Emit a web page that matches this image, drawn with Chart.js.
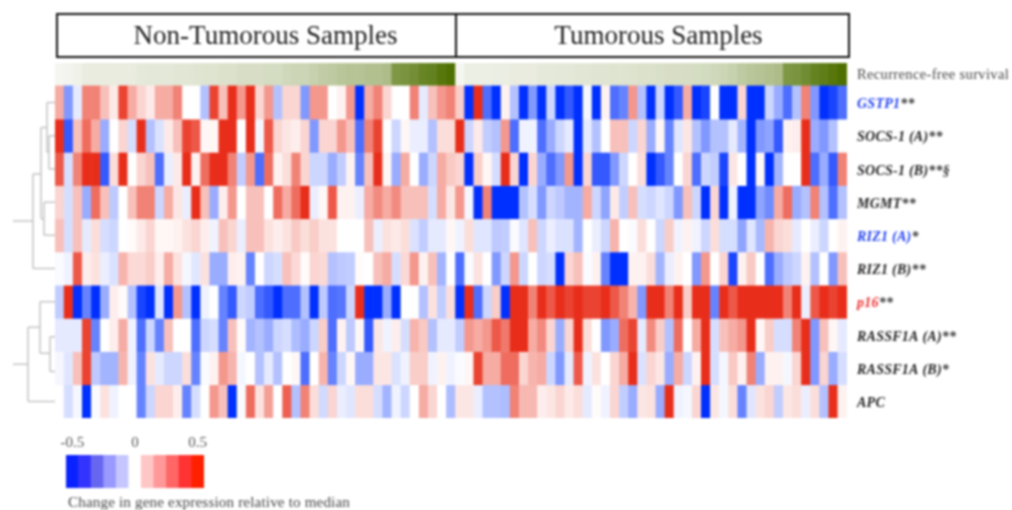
<!DOCTYPE html>
<html>
<head>
<meta charset="utf-8">
<script src="https://cdn.jsdelivr.net/npm/chart.js@4"></script>
<style>
  html, body { margin: 0; padding: 0; background: #fff; }
  #page { position: relative; width: 1012px; height: 510px; overflow: hidden; filter: blur(0.8px); font-family: "Liberation Serif", serif; }
  canvas { position: absolute; }
  #header { position: absolute; left: 56px; top: 13px; width: 790px; height: 41px; border: 2px solid #111; display: flex; box-sizing: content-box; }
  #header div { text-align: center; font-size: 27px; line-height: 41px; color: #222; box-sizing: border-box; }
  #nonTumor { width: 399px; padding-left: 18px; border-right: 2px solid #111; }
  #tumor { flex: 1; padding-left: 12px; }
  #caption { position: absolute; left: 68px; top: 494px; font-size: 15px; letter-spacing: 0.2px; color: #444; white-space: nowrap; }
</style>
</head>
<body>
<div id="page">
  <canvas id="heatmap" width="1012" height="510" style="left:0;top:0"></canvas>
  <canvas id="scaleBar" width="180" height="66" style="left:50px;top:427px"></canvas>
  <div id="header"><div id="nonTumor">Non-Tumorous Samples</div><div id="tumor">Tumorous Samples</div></div>
  <div id="caption">Change in gene expression relative to median</div>
</div>
<script>
// values are change relative to median x10 (so -5 = -0.5, 5 = 0.5)
// first 44 columns non tumorous, last 43 tumorous
const GSTP1 = [2,-2.5,-0.5,3,3,1.5,0.5,4.5,2,1, 0.5,2,2,3,0,0,-1.5,4.5,1.5,5, 2.5,5,1,2.5,-1.5,1,1,-2.5,2.5,2.5, 0,0.3,2.5,-5,2,3,1,0,0,3, -0.5,1.5,2.5,3,
  1.2,-5,5,-3.5,-5,0.3,-1.5,-5,-2.5,-5, -1,-5,-4,-5,-0.2,-5,0.3,-3.5,-3,2.5, -1.5,-5,-1,-5,-4,2,-5,-4.5,0,-5, -5,1,-5,-5,-1,-2,-3.5,-1.5,3,-2.5, -5,-4.5,-3.5];
const SOCS1A = [5,-4,1.5,3.5,2,-2,0,1,-0.8,5, -1.5,-0.7,0.5,1.5,4.5,4,0.2,0.2,5,5, 0,5,-0.2,4,1,0.6,0.4,1,-2.5,1, 1,2.5,1.5,-3.5,3,4.5,0,-1,0.2,-0.4, -0.4,-1.5,0.8,0.8,
  5,-1,0.5,-1.2,-1.5,2.5,-3.5,-0.3,-0.3,-3.5, -2,-1,-0.5,-5,-0.5,-1.5,0,1.5,1.5,-1, 1,-2,0.2,-3,-0.6,0.6,-1.5,-2.5,-1.5,-1.5, -0.5,-1.8,-5,-2.5,-2.2,-4,0.3,0.4,5,-2, -2.5,-1.5,0];
const SOCS1B = [4,-0.8,3,5,5,-4,0.8,5,0,1, 1.5,-3.5,-0.4,0.5,5,0.3,3.5,5,5,3, -1.2,2.5,-3.5,3.5,0.3,0.8,3,1,-1,-1, -2,-1.2,0.3,-3,1.5,5,0.2,-2,2,0, -2,-1,2,1.3,
  1,-5,1.2,0.2,-0.8,5,1,-5,1,-2, -3.5,-2.5,2.5,-5,1,-4,-4,-2.5,-1,0, 0.8,-5,-4,-3,0,1,-3.5,-1,-1.2,-4.5, 0.6,0,-5,0.2,-5,-1.8,0,0,5,-3.5, -2,-4,3];
const MGMT = [1,-0.8,1.5,-2,3.5,1.5,-1.3,0,1.5,3, 3,-1,2,0.6,-0.4,5,1.5,-2,0.4,2.5, 0,1.5,1.5,0,3.5,2,3.5,5,-0.4,0.2, 4,0.3,0.3,-0.4,2,2.8,2,2.8,1.5,1.5, 1.5,-0.8,2,0.6,
  2.5,-0.2,-5,3,-5,-5,-5,-1.5,-0.8,-2.5, -1,-1.3,-1.8,-1.8,2,-1,-2.2,0.5,-1.2,1.5, -0.8,-1,-0.6,-1,-2.5,1.5,-1,-5,1,-5, -0.3,-5,-5,-2.2,-2.8,2,3.5,-2,-1.5,3, -1.5,-3.5,-1.5];
const RIZ1A = [1.5,-0.8,1.5,-0.5,0.8,-0.8,-1,0,0.1,0.5, 1,0.2,0.2,0.3,0.7,1,0.4,-0.3,1.5,1, -0.4,1.5,1.5,0.7,0.4,0.7,1.3,0.8,1.2,0.7, 0.7,0,0,0,1.5,-0.4,0.7,0.5,0.8,-0.7, -1.2,-0.5,-0.5,0.2,
  -0.3,0.8,-0.6,-0.6,-1.3,-1.2,-0.1,-0.6,1.5,-1, -0.4,-0.7,-0.7,-1.8,0,-0.4,-1,1.8,0,-0.1, 0.8,0,-1,1.2,-0.3,0.3,-0.3,-1,0.8,-0.8, -0.8,-2.2,-0.6,-1.7,1.8,1,0.8,-0.5,0,-0.4, -1,0,0.3];
const RIZ1B = [-0.1,-0.3,4,0.4,0.7,-0.4,-0.7,1.8,0.9,0.9, 1.2,0.4,2,0.7,-0.2,-0.6,0.7,-2,-2,0.4, 0.3,-3,0,-1,-0.8,1.5,0.9,0.1,1,0.9, -1.5,-1.3,-1.2,0.1,0,1.5,2,-0.8,0.9,2.5, 0.3,1.5,-1.8,0,
  -3.5,-0.1,0.7,0,-2.5,-1,2.5,-1,0,-1, -0.8,-5,1,1.5,-0.1,0.3,-3,-5,-5,0.3, 0.3,0.8,-1.8,-0.4,0.3,0,-2.5,2.5,0,1, -4.5,0.3,1.3,0,-3.5,-2,-1.3,-1,0.3,-1.5, 0,-2.5,1.5];
const P16 = [-1.2,5,-5,-3,-5,-2,0.4,0.1,-1.5,-4.5, -5,-0.6,-5,2.5,-1.5,-5,-0.3,0,-3,-4, -1,-1.2,-3.5,-4,-5,-3.5,-3.5,-1.5,-5,-1.3, -3.5,-3.3,-1,5,-5,-5,-2,-5,0,0, -1.5,0.7,-1.2,0.8,
  -5,5,-3.5,-1,1.2,-5,5,5,3,5, 4,5,4.5,5,4.5,4.5,5,4,3,1.8, -2.5,5,5,3,5,1.2,5,5,-3,5, 4,5,5,5,5,5,3,5,-0.4,4, 5,4.5,5];
const RASSF1A_A = [-0.5,-0.5,-0.5,4.5,-3,0,0.4,2,-0.3,-3.5, -1,-3,1.5,0,0,-3.5,-1,-0.8,-3,1.5, 0.1,-1.8,-1.5,-2,-1,-0.8,-1.6,-2,-1,1.2, -3.5,0.3,-1.3,0.2,-4,0.6,-0.3,0.4,-0.8,1.8, 1.3,-1.5,-0.5,-0.5,
  -1.2,2.5,2,2.5,4,3.2,5,5,2,2.8, 1,-2,1,5,0.8,0,-2.5,-2,3.5,4.5, -0.5,2.8,1.2,-1.5,3.5,0,2,5,-0.8,1.5, 2,2.5,5,0.2,1.2,-0.8,-0.8,3,5,-2.5, 1.5,0.2,-0.5];
const RASSF1A_B = [-0.2,-0.6,1.5,4.5,-1.3,-1.8,-1.8,1.8,-0.3,-3, 0.7,-0.5,-1,-1,0.8,-3,-0.1,0.3,2.5,1.8, -0.2,0,-1.5,-0.5,-1.5,0,0.2,-3.5,0,1.8, -3,-1,0.2,-2,-2,0.6,0.6,-0.7,-0.3,1.2, 1.2,-0.3,0.3,-0.3,
  -0.1,0.2,4.5,2,2,3.5,3.5,1,1.8,2, -1,-2.5,-0.5,4,-0.3,0.7,0,1,2,5, -0.7,1,0.6,-2,2,-1,0.3,5,-0.8,-0.2, 1.3,0.3,3,-2,0.3,0.3,-0.2,1,5,-2.5, 1,-2,-0.8];
const APC = [0,-0.8,-0.2,-5,-0.1,0.7,-0.3,0,0,-3, -1,1,1,0.4,-3,-0.8,0,2.5,1.5,-5, -0.1,3.5,0.7,2.3,0,3.8,-1.5,3,0.8,-0.9, 1,-0.4,-0.6,0.8,0.8,-0.8,-1.8,-0.3,-1,0, 2,1,0,-1.6,
  0.6,0.6,-0.4,-1.5,-1.5,-1.6,3,1.7,1.7,0.4, 0.6,1,0.5,0.8,-0.5,0.1,-0.3,1,-1.2,-2, 0.6,0.7,-2,5,-0.3,-0.2,1,-5,0.6,-0.2, 0.8,-3,-0.6,0.7,1,-1.2,0.6,0.8,-0.4,0.8, -1.5,5,0.3];

// recurrence free survival strip, 0 = pale, 1 = dark green
const survival = [.03,.04,.06,.1,.1,.1,.1,.1,.1,.12, .13,.13,.13,.14,.14,.15,.16,.16,.18,.18, .2,.2,.2,.22,.22,.25,.27,.27,.3,.33, .35,.38,.4,.4,.42,.42,.45,.72,.75,.78, .85,.88,.95,1,
  .03,.08,.08,.08,.09,.09,.1,.1,.1,.12, .12,.13,.13,.14,.14,.15,.15,.16,.16,.17, .18,.18,.19,.2,.2,.21,.22,.23,.25,.27, .3,.35,.38,.4,.42,.45,.72,.75,.8,.87, .9,.95,1];

const rowValues = [GSTP1, SOCS1A, SOCS1B, MGMT, RIZ1A, RIZ1B, P16, RASSF1A_A, RASSF1A_B, APC];
const geneNames = ['GSTP1', 'SOCS-1 (A)', 'SOCS-1 (B)', 'MGMT', 'RIZ1 (A)', 'RIZ1 (B)', 'p16', 'RASSF1A (A)', 'RASSF1A (B)', 'APC'];
const geneMarks = ['**', '**', '**§', '**', '*', '**', '**', '**', '*', ''];
const geneColors = ['#2342f0', '#222', '#222', '#222', '#2342f0', '#222', '#ee3030', '#222', '#222', '#222'];

// dendrogram: left offset from heatmap in px, from row, to row (rows counted from 0, 0.5 = cell middle)
const dendroBrackets = [
  [6, 1.5, 2.5], [8, 0.5, 2], [14, 1.25, 4], [11, 3.5, 4.5], [22, 2.65, 5.5],
  [15, 6.5, 8.05], [5, 7.55, 8.6], [27, 7.27, 9.5]
];
// stubs: from offset, to offset, row
const dendroStubs = [
  [8, 0, 0.5], [6, 0, 1.5], [6, 0, 2.5], [8, 6, 2], [11, 0, 3.5], [11, 0, 4.5], [22, 0, 5.5],
  [14, 8, 1.25], [14, 11, 4], [22, 14, 2.65], [42, 22, 4.07],
  [15, 0, 6.5], [5, 0, 7.55], [5, 0, 8.6], [15, 5, 8.05], [27, 15, 7.27], [27, 0, 9.5], [42, 27, 8.38]
];

const legendValues = [-5, -4, -3, -2, -1, 0, 1, 2, 3, 4, 5];
const legendLabels = ['-0.5', '', '', '', '', '0', '', '', '', '', '0.5'];
const legendColors = ['#0a22ff', '#3333ff', '#6666f0', '#9999ff', '#c6c6ff', '#ffffff', '#ffc6c6', '#ff9999', '#ff6666', '#ff3333', '#ff2000'];

const columns = survival.map((v, i) => i);

function mix(from, to, t) {
  const c = from.map((f, i) => Math.round(f + (to[i] - f) * t));
  return `rgb(${c[0]},${c[1]},${c[2]})`;
}

function cellColor(v) {
  const t = Math.min(Math.abs(v) / 5, 1);
  return v < 0 ? mix([255, 255, 255], [0, 48, 255], t) : mix([255, 255, 255], [232, 46, 26], t);
}

function greenColor(v) {
  return mix([250, 250, 248], [78, 112, 0], v);
}

const datasets = rowValues.map((vals, r) => ({
  label: geneNames[r],
  data: vals.map(() => [r, r + 1]),
  backgroundColor: vals.map(cellColor),
  grouped: false,
  borderWidth: 0,
  categoryPercentage: 1,
  barPercentage: 1
}));

datasets.push({
  label: 'Recurrence-free survival',
  data: survival.map(() => [-0.69, 0]),
  backgroundColor: survival.map(greenColor),
  grouped: false,
  borderWidth: 0,
  categoryPercentage: 1,
  barPercentage: 1
});

// gene names, strip title and dendrogram hang off the chart scales
const sidePlugin = {
  id: 'sidePlugin',
  afterDraw(chart) {
    const { ctx, chartArea, scales } = chart;
    const y = scales.y;
    const left = chartArea.left;
    const labelX = chartArea.right + 10;
    ctx.save();
    ctx.textBaseline = 'middle';
    ctx.textAlign = 'left';

    ctx.font = '14.5px "Liberation Serif"';
    ctx.letterSpacing = '0.35px';
    ctx.fillStyle = '#444';
    ctx.fillText('Recurrence-free survival', labelX, y.getPixelForValue(-0.33));

    ctx.letterSpacing = '0.25px';
    geneNames.forEach((name, r) => {
      const py = y.getPixelForValue(r + 0.5) + 2;
      ctx.font = 'italic bold 14px "Liberation Serif"';
      ctx.fillStyle = geneColors[r];
      ctx.fillText(name, labelX, py);
      const w = ctx.measureText(name).width;
      ctx.fillStyle = '#333';
      ctx.fillText(geneMarks[r], labelX + w, py);
    });
    ctx.letterSpacing = '0px';

    ctx.strokeStyle = '#c4c4c4';
    ctx.lineWidth = 1.5;
    ctx.beginPath();
    dendroBrackets.forEach(([off, a, b]) => {
      ctx.moveTo(left - off, y.getPixelForValue(a));
      ctx.lineTo(left - off, y.getPixelForValue(b));
    });
    dendroStubs.forEach(([a, b, row]) => {
      ctx.moveTo(left - a, y.getPixelForValue(row));
      ctx.lineTo(left - b, y.getPixelForValue(row));
    });
    ctx.stroke();
    ctx.restore();
  }
};

new Chart(document.getElementById('heatmap'), {
  type: 'bar',
  data: { labels: columns, datasets },
  plugins: [sidePlugin],
  options: {
    responsive: false,
    animation: false,
    layout: { padding: { left: 55, right: 165, top: 63, bottom: 92 } },
    plugins: { legend: { display: false }, tooltip: { enabled: false } },
    scales: {
      x: { display: false },
      y: { display: false, reverse: true, min: -0.69, max: 10 }
    }
  }
});

new Chart(document.getElementById('scaleBar'), {
  type: 'bar',
  data: {
    labels: legendLabels,
    datasets: [{
      data: legendValues.map(() => 1),
      backgroundColor: legendColors,
      borderWidth: 0,
      categoryPercentage: 1,
      barPercentage: 1
    }]
  },
  options: {
    responsive: false,
    animation: false,
    layout: { padding: { left: 16, right: 26, top: 4, bottom: 5 } },
    plugins: { legend: { display: false }, tooltip: { enabled: false } },
    scales: {
      x: {
        position: 'top',
        grid: { display: false, drawTicks: false },
        border: { display: false },
        ticks: {
          autoSkip: false,
          maxRotation: 0,
          padding: 3,
          color: '#555',
          font: { family: 'Liberation Serif', size: 15 },
          callback(v, i) { return legendLabels[i]; }
        }
      },
      y: { display: false, min: 0, max: 1 }
    }
  }
});
</script>
</body>
</html>
